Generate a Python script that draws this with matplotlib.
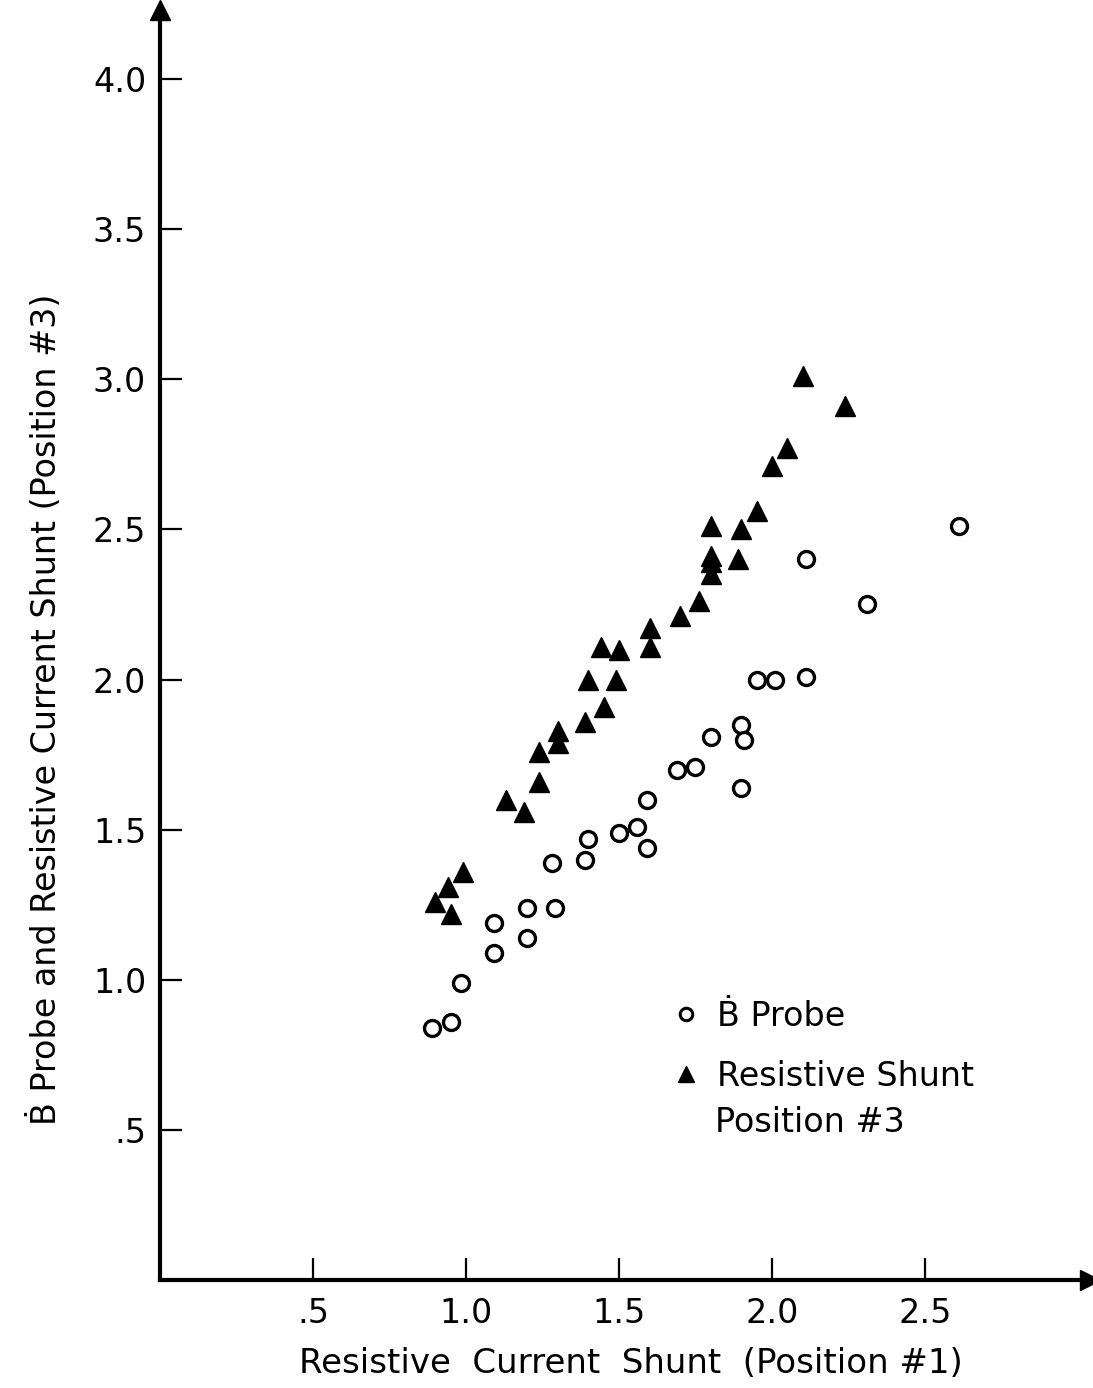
import matplotlib.pyplot as plt
from matplotlib.lines import Line2D

# B-dot probe readings (open circles)
probe_x = [0.89, 0.95, 0.985, 1.09, 1.09, 1.20, 1.20, 1.29, 1.28, 1.39, 1.40,
           1.50, 1.56, 1.59, 1.59, 1.69, 1.75, 1.80, 1.90, 1.91, 1.90, 1.95,
           2.01, 2.11, 2.11, 2.31, 2.61]
probe_y = [0.84, 0.86, 0.99, 1.09, 1.19, 1.14, 1.24, 1.24, 1.39, 1.40, 1.47,
           1.49, 1.51, 1.44, 1.60, 1.70, 1.71, 1.81, 1.85, 1.80, 1.64, 2.00,
           2.00, 2.01, 2.40, 2.25, 2.51]

# Resistive shunt, position #3 (filled triangles)
shunt_x = [2.10, 2.24, 2.05, 2.00, 1.95, 1.80, 1.90, 1.80, 1.80, 1.80, 1.89,
           1.76, 1.70, 1.60, 1.60, 1.44, 1.50, 1.49, 1.40, 1.45, 1.39, 1.30,
           1.30, 1.24, 1.24, 1.13, 1.19, 0.99, 0.94, 0.90, 0.95]
shunt_y = [3.01, 2.91, 2.77, 2.71, 2.56, 2.51, 2.50, 2.41, 2.39, 2.35, 2.40,
           2.26, 2.21, 2.17, 2.11, 2.11, 2.10, 2.00, 2.00, 1.91, 1.86, 1.83,
           1.79, 1.76, 1.66, 1.60, 1.56, 1.36, 1.31, 1.26, 1.22]

x_ticks = [0.5, 1.0, 1.5, 2.0, 2.5]
x_tick_labels = [".5", "1.0", "1.5", "2.0", "2.5"]
y_ticks = [0.5, 1.0, 1.5, 2.0, 2.5, 3.0, 3.5, 4.0]
y_tick_labels = [".5", "1.0", "1.5", "2.0", "2.5", "3.0", "3.5", "4.0"]

plt.rcParams["font.family"] = ["DejaVu Sans"]

fig = plt.figure(figsize=(10.93, 13.88), dpi=100)
ax = fig.add_axes([0.1464, 0.0778, 0.851, 0.915])

ax.plot(probe_x, probe_y, "o", ms=11.5, mfc="white", mec="black", mew=2.4,
        ls="none", clip_on=False)
ax.plot(shunt_x, shunt_y, "^", ms=14, color="black", ls="none", clip_on=False)

ax.set_xlim(0.0, 3.04)
ax.set_ylim(0.0, 4.23)

for side in ("top", "right"):
    ax.spines[side].set_visible(False)
for side in ("left", "bottom"):
    ax.spines[side].set_linewidth(3)

# arrow heads on the axes
ax.plot(1, 0, ">k", ms=14, transform=ax.get_yaxis_transform(), clip_on=False)
ax.plot(0, 1, "^k", ms=14, transform=ax.get_xaxis_transform(), clip_on=False)

ax.set_xticks(x_ticks)
ax.set_xticklabels(x_tick_labels)
ax.set_yticks(y_ticks)
ax.set_yticklabels(y_tick_labels)
ax.tick_params(direction="in", length=16, width=1.6, labelsize=24)
ax.tick_params(axis="x", pad=12)
ax.tick_params(axis="y", pad=10)

ax.set_xlabel("Resistive  Current  Shunt  (Position #1)", fontsize=24.5)
ax.set_ylabel("Ḃ Probe and Resistive Current Shunt (Position #3)", fontsize=24)
ax.xaxis.set_label_coords(0.506, -0.053)
ax.yaxis.set_label_coords(-0.104, 0.449)

handles = [
    Line2D([], [], marker="o", ls="none", ms=9, mfc="white", mec="black", mew=2.2),
    Line2D([], [], marker="^", ls="none", ms=12, color="black"),
]
ax.legend(handles, ["Ḃ Probe", "Resistive Shunt"],
          loc="upper left", bbox_to_anchor=(0.533, 0.231), frameon=False,
          fontsize=24, handlelength=1.0, handletextpad=0.45, labelspacing=0.8,
          borderaxespad=0)
ax.text(0.597, 0.124, "Position #3", transform=ax.transAxes,
        fontsize=24, va="center", ha="left")

fig.savefig("out.png", dpi=100, facecolor="white")
